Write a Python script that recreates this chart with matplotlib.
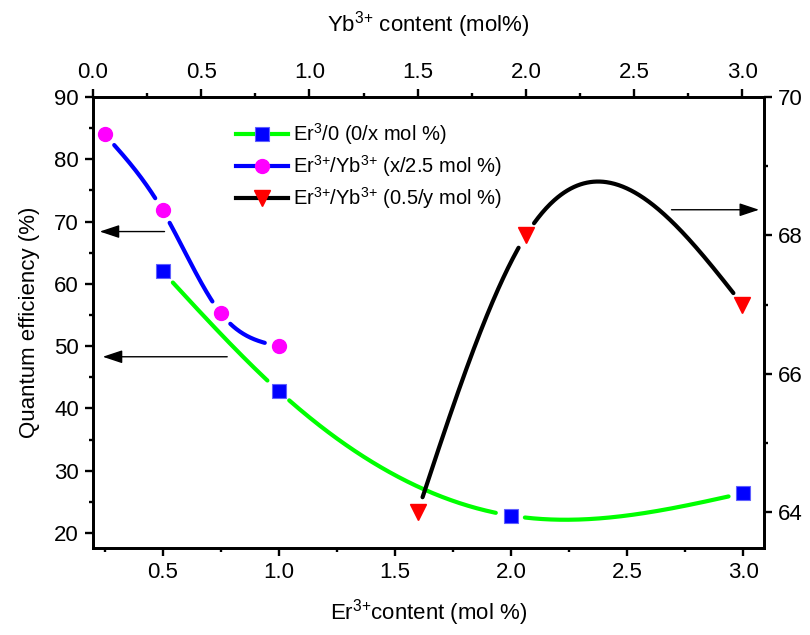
import numpy as np
import matplotlib.pyplot as plt
from matplotlib.lines import Line2D
from matplotlib.ticker import MultipleLocator

plt.rcParams['font.family'] = 'Liberation Sans'
plt.rcParams['mathtext.fontset'] = 'custom'
plt.rcParams['mathtext.rm'] = 'Liberation Sans'
plt.rcParams['mathtext.it'] = 'Liberation Sans:italic'

# Er3/0 (0/x mol %): Er content on bottom axis, QE on left axis
er_x = [0.5, 1.0, 2.0, 3.0]
er_qe = [62.0, 42.8, 22.8, 26.4]

# Er/Yb (x/2.5 mol %): Er content on bottom axis, QE on left axis
eryb_x = [0.25, 0.5, 0.75, 1.0]
eryb_qe = [84.0, 71.8, 55.3, 50.0]

# Er/Yb (0.5/y mol %): Yb content on top axis, QE on right axis
yb_x = [1.5, 2.0, 3.0]
yb_qe = [64.0, 68.0, 67.0]

SUP = r'$^{\mathregular{3{+}}}$'
labels = [r'Er$^{\mathregular{3}}$/0 (0/x mol %)',
          'Er' + SUP + '/Yb' + SUP + ' (x/2.5 mol %)',
          'Er' + SUP + '/Yb' + SUP + ' (0.5/y mol %)']


def natural_spline(x, y, n=400):
    # natural cubic spline through the points, for the smooth connecting line
    x = np.asarray(x, float)
    y = np.asarray(y, float)
    h = np.diff(x)
    m = len(x)
    A = np.zeros((m, m))
    r = np.zeros(m)
    A[0, 0] = A[-1, -1] = 1
    for i in range(1, m - 1):
        A[i, i - 1] = h[i - 1]
        A[i, i] = 2 * (h[i - 1] + h[i])
        A[i, i + 1] = h[i]
        r[i] = 6 * ((y[i + 1] - y[i]) / h[i] - (y[i] - y[i - 1]) / h[i - 1])
    M = np.linalg.solve(A, r)
    xs = np.linspace(x[0], x[-1], n)
    k = np.clip(np.searchsorted(x, xs) - 1, 0, m - 2)
    x0, x1, hk = x[k], x[k + 1], h[k]
    ys = ((M[k] * (x1 - xs) ** 3 + M[k + 1] * (xs - x0) ** 3) / (6 * hk)
          + (y[k] / hk - M[k] * hk / 6) * (x1 - xs)
          + (y[k + 1] / hk - M[k + 1] * hk / 6) * (xs - x0))
    return xs, ys


def gapped(axis, xs, ys, px, py, gap=14):
    # break the line near each marker (pixel distance)
    pts = axis.transData.transform(np.column_stack([xs, ys]))
    mk = axis.transData.transform(np.column_stack([px, py]))
    d = np.hypot(pts[:, None, 0] - mk[None, :, 0], pts[:, None, 1] - mk[None, :, 1]).min(axis=1)
    return np.where(d < gap, np.nan, ys)


fig = plt.figure(figsize=(8.1, 6.35), dpi=100)
ax = fig.add_axes([93 / 810, 87 / 635, 671 / 810, 451 / 635])
axr = ax.twinx()
axt = axr.twiny()

ax.set_xlim(0.2, 3.09)
ax.set_ylim(17.6, 90)
axr.set_ylim(63.48, 70)
axt.set_xlim(0, 3.1)

# green / blue curves on bottom-left axes
xs, ys = natural_spline(er_x, er_qe)
ax.plot(xs, gapped(ax, xs, ys, er_x, er_qe), color='#00ff00', lw=3, solid_capstyle='round', zorder=2)
ax.plot(er_x, er_qe, ls='none', marker='s', ms=9.5, mfc='blue', mec='#6060ff', mew=0.8, zorder=3)

xs, ys = natural_spline(eryb_x, eryb_qe)
ax.plot(xs, gapped(ax, xs, ys, eryb_x, eryb_qe), color='blue', lw=3, solid_capstyle='round', zorder=2)
ax.plot(eryb_x, eryb_qe, ls='none', marker='o', ms=10, mfc='magenta', mec='magenta', zorder=3)

# black curve on top-right axes
xs, ys = natural_spline(yb_x, yb_qe)
axt.plot(xs, gapped(axt, xs, ys, yb_x, yb_qe), color='black', lw=3, solid_capstyle='round', zorder=2)
axt.plot(yb_x, yb_qe, ls='none', marker='v', ms=12, mfc='red', mec='red', zorder=3)

# arrows pointing to the matching axis
arw = dict(arrowstyle='-|>,head_length=0.6,head_width=0.2', color='black', lw=1, mutation_scale=20)
ax.annotate('', xy=(0.217, 68.4), xytext=(0.52, 68.4), arrowprops=arw)
ax.annotate('', xy=(0.23, 48.3), xytext=(0.79, 48.3), arrowprops=arw)
axt.annotate('', xy=(3.09, 68.37), xytext=(2.66, 68.37), arrowprops=arw)

# ticks
ax.xaxis.set_major_locator(MultipleLocator(0.5))
ax.xaxis.set_minor_locator(MultipleLocator(0.25))
ax.yaxis.set_major_locator(MultipleLocator(10))
ax.yaxis.set_minor_locator(MultipleLocator(5))
axr.yaxis.set_major_locator(MultipleLocator(2))
axr.yaxis.set_minor_locator(MultipleLocator(1))
axt.xaxis.set_major_locator(MultipleLocator(0.5))
axt.xaxis.set_minor_locator(MultipleLocator(0.25))

for a in (ax, axr, axt):
    a.tick_params(which='major', direction='out', length=6, width=1.7, labelsize=16, pad=4)
    a.tick_params(which='minor', direction='out', length=3, width=1.7)
    for s in a.spines.values():
        s.set_linewidth(1.8)

ax.xaxis.set_major_formatter(plt.FormatStrFormatter('%.1f'))
axt.xaxis.set_major_formatter(plt.FormatStrFormatter('%.1f'))

ax.set_xlabel('Er' + SUP + 'content (mol %)', fontsize=16, labelpad=10)
ax.set_ylabel('Quantum efficiency (%)', fontsize=16, labelpad=10)
axt.set_xlabel('Yb' + SUP + ' content (mol%)', fontsize=16, labelpad=22)

# legend
handles = [
    Line2D([], [], color='#00ff00', lw=3, marker='s', ms=9.5, mfc='blue', mec='#6060ff', mew=0.8),
    Line2D([], [], color='blue', lw=3, marker='o', ms=10, mfc='magenta', mec='magenta'),
    Line2D([], [], color='black', lw=3, marker='v', ms=12, mfc='red', mec='red'),
]
axt.legend(handles, labels, loc='upper left', bbox_to_anchor=(226 / 810, 1 - 111 / 635),
           bbox_transform=fig.transFigure, frameon=False, fontsize=14.5,
           handlelength=2.6, handletextpad=0.25, labelspacing=0.3, borderpad=0)

fig.savefig('out.png', dpi=100)
